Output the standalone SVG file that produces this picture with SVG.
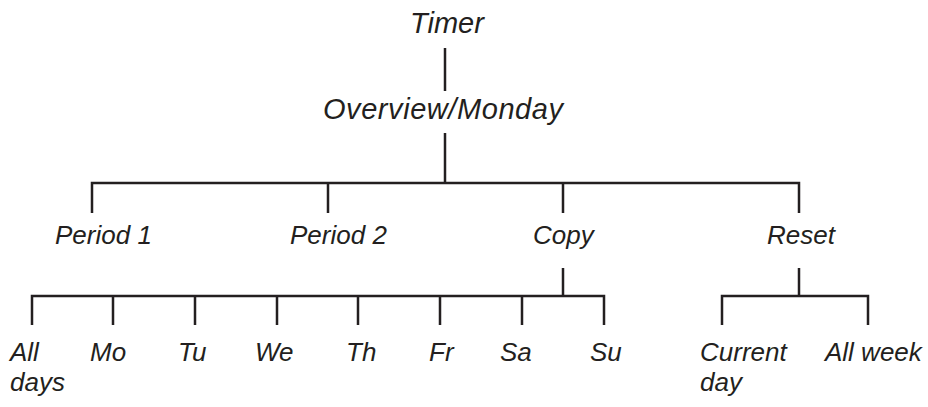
<svg xmlns="http://www.w3.org/2000/svg" width="928" height="407" viewBox="0 0 928 407">
<style>
text{font-family:"Liberation Sans",Arial,sans-serif;font-style:italic;fill:#231f20;font-size:26px}
.big{font-size:29px}
.ln{fill:none;stroke:#231f20;stroke-width:2.5;stroke-linecap:butt;stroke-linejoin:miter}
</style>
<rect width="928" height="407" fill="#fff"/>
<g id="connectors">
<path class="ln" d="M445 48V91"/>
<path class="ln" d="M445 133V183"/>
<path class="ln" d="M92 213V183H799V213M328 183V213M563 183V213"/>
<path class="ln" d="M563 268V296"/>
<path class="ln" d="M32 325V296H604V325M113 296V325M195 296V325M277 296V325M358 296V325M440 296V325M522 296V325"/>
<path class="ln" d="M799 268V296"/>
<path class="ln" d="M722 325V296H868V325"/>
</g>
<g id="timer"><text class="big" x="410" y="33">Timer</text></g>
<g id="overview"><text class="big" x="323" y="119" textLength="240">Overview/Monday</text></g>
<g id="period1"><text x="55" y="244">Period 1</text></g>
<g id="period2"><text x="290" y="244">Period 2</text></g>
<g id="copy"><text x="533" y="244">Copy</text></g>
<g id="reset"><text x="767" y="244">Reset</text></g>
<g id="alldays"><text x="10" y="361">All</text><text x="10" y="391">days</text></g>
<g id="mo"><text x="90" y="361">Mo</text></g>
<g id="tu"><text x="178" y="361">Tu</text></g>
<g id="we"><text x="255" y="361">We</text></g>
<g id="th"><text x="346" y="361">Th</text></g>
<g id="fr"><text x="429" y="361">Fr</text></g>
<g id="sa"><text x="500" y="361">Sa</text></g>
<g id="su"><text x="590" y="361">Su</text></g>
<g id="currentday"><text x="700" y="361">Current</text><text x="700" y="391">day</text></g>
<g id="allweek"><text x="825" y="361">All week</text></g>
</svg>
